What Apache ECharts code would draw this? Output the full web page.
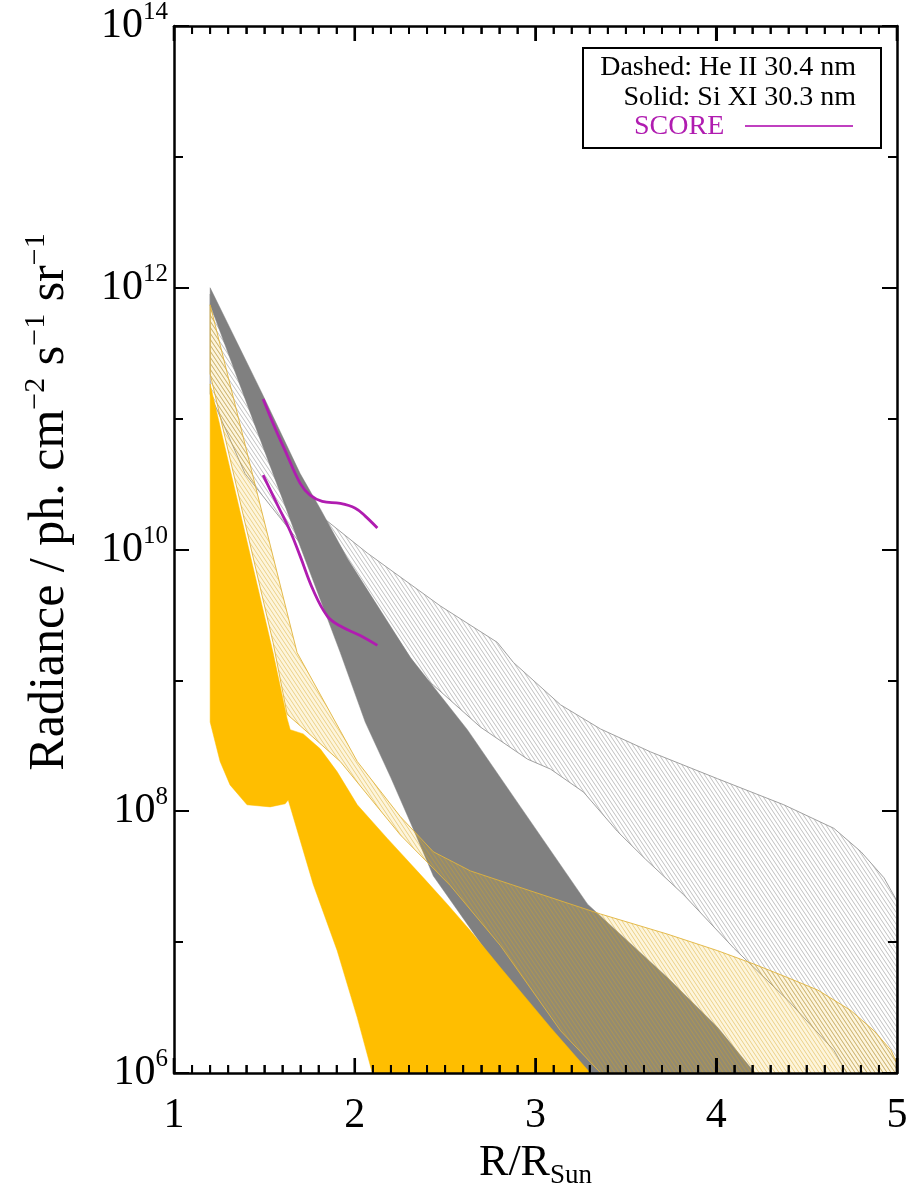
<!DOCTYPE html>
<html>
<head>
<meta charset="utf-8">
<script src="https://cdn.jsdelivr.net/npm/echarts@6/dist/echarts.min.js"></script>
<style>
  html, body { margin: 0; padding: 0; background: #fff; }
  #chart { width: 912px; height: 1196px; }
</style>
</head>
<body>
<div id="chart"></div>
<script>
// Radial radiance envelopes, points are [R/R_Sun, radiance (ph cm^-2 s^-1 sr^-1)]
// Si XI 30.3 nm, grey model: upper and lower envelope
const siGrayTop = [[1.2,1.0e12],[1.488,1.55e11],[1.698,3.8e10],[1.809,2.05e10],[1.958,8.6e9],[2.307,1.5e9],[2.623,4.2e8],[2.917,1.08e8],[3.288,1.95e7],[3.731,5.35e6],[4.008,2.23e6],[4.247,8.8e5]];
const siGrayBot = [[1.2,7.4e11],[1.476,7.0e10],[1.698,1.06e10],[1.920,1.63e9],[2.058,4.8e8],[2.200,1.8e8],[2.340,6.5e7],[2.435,3.2e7],[2.806,6.0e6],[3.166,8.8e5]];
// He II 30.4 nm, grey model
const heGrayTop = [[1.2,8.9e11],[1.476,1.3e11],[1.753,2.1e10],[2.069,9.4e9],[2.474,3.7e9],[2.789,1.95e9],[2.878,1.37e9],[3.139,6.5e8],[3.360,4.25e8],[3.637,2.84e8],[4.008,1.77e8],[4.374,1.12e8],[4.651,7.4e7],[4.801,4.9e7],[4.928,3.1e7],[5.0,2.06e7]];
const heGrayBot = [[1.2,1.54e11],[1.393,3.8e10],[1.698,1.12e10],[2.030,3.6e9],[2.307,1.26e9],[2.435,9.2e8],[2.695,4.4e8],[2.956,2.5e8],[3.083,2.1e8],[3.266,1.4e8],[3.454,7.0e7],[3.609,4.3e7],[3.820,2.3e7],[4.097,9.0e6],[4.396,3.6e6],[4.651,1.49e6],[4.745,8.8e5]];
// Si XI 30.3 nm, orange model
const siOrangeTop = [[1.2,1.84e11],[1.548,1.63e9],[1.626,5.1e8],[1.643,4.2e8],[1.715,3.9e8],[1.809,3.0e8],[1.903,2.0e8],[2.014,1.12e8],[2.180,6.2e7],[2.380,3.1e7],[2.512,1.95e7],[2.640,1.22e7],[2.806,6.4e6],[3.083,2.23e6],[3.338,8.8e5]];
const siOrangeBot = [[1.2,4.8e8],[1.255,2.4e8],[1.310,1.59e8],[1.404,1.12e8],[1.532,1.08e8],[1.615,1.14e8],[1.632,1.22e8],[1.770,2.77e7],[1.903,8.6e6],[2.014,2.65e6],[2.108,8.8e5]];
// He II 30.4 nm, orange model
const heOrangeTop = [[1.2,7.4e11],[1.681,1.63e9],[2.014,2.4e8],[2.252,9.1e7],[2.435,4.9e7],[2.640,3.5e7],[2.861,2.77e7],[3.360,1.64e7],[3.731,1.15e7],[4.008,8.6e6],[4.208,6.8e6],[4.396,5.35e6],[4.562,4.3e6],[4.745,3.0e6],[4.873,2.1e6],[4.967,1.49e6],[5.0,1.18e6]];
const heOrangeBot = [[1.2,2.2e11],[1.548,1.95e9],[1.626,5.5e8],[1.698,4.5e8],[1.920,2.4e8],[2.252,6.6e7],[2.529,2.7e7],[2.806,9.4e6],[3.139,2.1e6],[3.399,8.8e5]];
// SCORE measurements
const scoreUpper = [[1.493,1.41e11],[1.560,8.4e10],[1.615,5.7e10],[1.698,3.2e10],[1.753,2.6e10],[1.820,2.33e10],[1.920,2.25e10],[2.003,2.07e10],[2.058,1.8e10],[2.125,1.46e10]];
const scoreLower = [[1.493,3.7e10],[1.576,2.14e10],[1.643,1.38e10],[1.698,8.9e9],[1.770,4.9e9],[1.848,3.1e9],[1.920,2.6e9],[2.030,2.2e9],[2.125,1.85e9]];

const xMajorTicks = [1, 2, 3, 4, 5];
const xMinorPerMajor = 10;
const legendLines = ['Dashed: He II 30.4 nm', 'Solid: Si XI 30.3 nm', 'SCORE'];
const SERIF = '"Liberation Serif", "Times New Roman", serif';
const Y_MIN = 1e6, Y_MAX = 1e14;

// tick positions along R/R_Sun (major ticks plus the tenths between them)
const xTickMarks = [];
for (let i = 0; i < xMajorTicks.length; i++) {
  xTickMarks.push([xMajorTicks[i], Y_MIN, 1]);
  if (i < xMajorTicks.length - 1) {
    const step = (xMajorTicks[i + 1] - xMajorTicks[i]) / xMinorPerMajor;
    for (let k = 1; k < xMinorPerMajor; k++) xTickMarks.push([+(xMajorTicks[i] + k * step).toFixed(4), Y_MIN, 0]);
  }
}

// diagonal hatch tile
function hatch(w, h, line, lw, bg) {
  const c = document.createElement('canvas');
  c.width = w; c.height = h;
  const g = c.getContext('2d');
  if (bg) { g.fillStyle = bg; g.fillRect(0, 0, w, h); }
  g.strokeStyle = line; g.lineWidth = lw;
  for (let k = -1; k <= 1; k++) {
    g.beginPath(); g.moveTo(k * w, 0); g.lineTo(k * w + w, h); g.stroke();
  }
  return c;
}
const grayHatch = hatch(4, 6, 'rgba(140,140,140,0.6)', 0.9, null);
const yellowHatch = hatch(4, 6, 'rgba(215,165,30,0.5)', 0.9, 'rgba(245,195,50,0.17)');

// closed band between an upper and a lower envelope, clipped to the plot
function band(name, top, bot, style, z) {
  return {
    type: 'custom', name: name, coordinateSystem: 'cartesian2d',
    xAxisIndex: 0, yAxisIndex: 0, clip: true, silent: true, z: z,
    data: [top[0]],
    renderItem: function (params, api) {
      const floor = 1e5;
      const ring = top.concat(
        [[top[top.length - 1][0], floor], [bot[bot.length - 1][0], floor]],
        bot.slice().reverse());
      const cs = params.coordSys;
      return {
        type: 'polygon',
        shape: { points: ring.map(p => api.coord(p)) },
        style: style,
        clipPath: { type: 'rect', shape: { x: cs.x, y: cs.y, width: cs.width, height: cs.height } }
      };
    }
  };
}

// inward tick marks on the bottom and top frame edges, one data item per tick
function frameTicks() {
  return {
    type: 'custom', name: 'frame ticks', coordinateSystem: 'cartesian2d',
    xAxisIndex: 0, yAxisIndex: 0, clip: false, silent: true, z: 30,
    dimensions: ['x', 'y', 'major'],
    encode: { x: 0, y: 1 },
    data: xTickMarks,
    renderItem: function (params, api) {
      const v = api.value(0);
      const major = api.value(2) === 1;
      const len = major ? 15 : 8;
      const w = major ? 2.6 : 2;
      const b = api.coord([v, Y_MIN]);
      const tp = api.coord([v, Y_MAX]);
      return {
        type: 'group', children: [
          { type: 'rect', shape: { x: b[0] - w / 2, y: b[1] - len, width: w, height: len }, style: { fill: '#000' } },
          { type: 'rect', shape: { x: tp[0] - w / 2, y: tp[1], width: w, height: len }, style: { fill: '#000' } }
        ]
      };
    }
  };
}

function frameLine() { return { show: true, lineStyle: { color: '#000', width: 2.5 } }; }

function yAxisDef(pos, interval, tickLen, labels) {
  return {
    type: 'log', logBase: 10, min: Y_MIN, max: Y_MAX, interval: interval,
    position: pos, offset: 0, gridIndex: 0, show: true, z: 20,
    axisLine: (labels || (pos === 'right' && interval === 2)) ? frameLine() : { show: false },
    axisTick: { show: true, inside: true, length: tickLen, lineStyle: { color: '#000', width: 2 } },
    splitLine: { show: false },
    axisLabel: labels ? {
      show: true, margin: 6, color: '#000',
      formatter: v => '{b|10}{s|' + Math.round(Math.log10(v)) + '}',
      rich: {
        b: { fontFamily: SERIF, fontSize: 42, lineHeight: 52, color: '#000' },
        s: { fontFamily: SERIF, fontSize: 25, lineHeight: 25, verticalAlign: 'top', color: '#000' }
      }
    } : { show: false }
  };
}

function xAxisDef(pos, labels) {
  return {
    type: 'value', min: 1, max: 5, interval: 1, position: pos, gridIndex: 0, show: true, z: 20,
    axisLine: frameLine(),
    axisTick: { show: true, inside: true, interval: 0, length: 15, lineStyle: { color: '#000', width: 2 } },
    minorTick: { show: true, splitNumber: 10, length: 8, lineStyle: { color: '#000', width: 1.6 } },
    splitLine: { show: false },
    axisLabel: labels ? { show: true, margin: 22, color: '#000', fontFamily: SERIF, fontSize: 42 } : { show: false },
    name: labels ? '{b|R/R}{sub|Sun}' : '',
    nameLocation: 'middle', nameGap: 62,
    nameTextStyle: {
      rich: {
        b: { fontFamily: SERIF, fontSize: 44, lineHeight: 52, color: '#000' },
        sub: { fontFamily: SERIF, fontSize: 27, lineHeight: 27, verticalAlign: 'bottom', color: '#000' }
      }
    }
  };
}

const chart = echarts.init(document.getElementById('chart'), null, { renderer: 'canvas' });
chart.setOption({
  animation: false,
  backgroundColor: '#fff',
  grid: { left: 174, right: 15, top: 20, bottom: 123, containLabel: false },
  xAxis: [xAxisDef('bottom', true), xAxisDef('top', false)],
  yAxis: [
    yAxisDef('left', 2, 15, true),
    yAxisDef('left', 1, 9, false),
    yAxisDef('right', 2, 15, false),
    yAxisDef('right', 1, 9, false)
  ],
  series: [
    band('He II grey', heGrayTop, heGrayBot,
      { fill: { image: grayHatch, repeat: 'repeat' }, stroke: '#a0a0a0', lineWidth: 1 }, 1),
    band('Si XI grey', siGrayTop, siGrayBot,
      { fill: '#808080', stroke: '#808080', lineWidth: 0.5 }, 2),
    band('He II orange', heOrangeTop, heOrangeBot,
      { fill: { image: yellowHatch, repeat: 'repeat' }, stroke: 'rgba(225,180,60,0.9)', lineWidth: 1 }, 3),
    band('Si XI orange', siOrangeTop, siOrangeBot,
      { fill: '#ffbe00', stroke: '#ffbe00', lineWidth: 0.5 }, 4),
    {
      type: 'line', name: 'SCORE', data: scoreUpper, smooth: 0.4, showSymbol: false, z: 5,
      lineStyle: { color: '#b01cb0', width: 2.8 }, silent: true
    },
    {
      type: 'line', name: 'SCORE lower', data: scoreLower, smooth: 0.4, showSymbol: false, z: 5,
      lineStyle: { color: '#b01cb0', width: 2.8 }, silent: true
    },
    frameTicks()
  ],
  graphic: [
    {
      type: 'text', x: 50, y: 502, rotation: Math.PI / 2, z: 50,
      style: {
        text: '{b|Radiance / ph. cm}{s|−2}{b| s}{s|−1}{b| sr}{s|−1}',
        align: 'center', verticalAlign: 'middle',
        rich: {
          b: { fontFamily: SERIF, fontSize: 50, lineHeight: 58, fill: '#000' },
          s: { fontFamily: SERIF, fontSize: 30, lineHeight: 30, verticalAlign: 'top', fill: '#000' }
        }
      }
    },
    {
      type: 'group', z: 100,
      children: [
        { type: 'rect', shape: { x: 583, y: 48, width: 298, height: 100 }, style: { fill: '#fff', stroke: '#000', lineWidth: 2 } },
        { type: 'text', x: 856, y: 68, style: { text: legendLines[0], align: 'right', verticalAlign: 'middle', font: '28px ' + SERIF, fill: '#000' } },
        { type: 'text', x: 856, y: 98, style: { text: legendLines[1], align: 'right', verticalAlign: 'middle', font: '28px ' + SERIF, fill: '#000' } },
        { type: 'text', x: 634, y: 127, style: { text: legendLines[2], align: 'left', verticalAlign: 'middle', font: '28px ' + SERIF, fill: '#b01cb0' } },
        { type: 'line', shape: { x1: 745, y1: 126, x2: 853, y2: 126 }, style: { stroke: '#c040c0', lineWidth: 2 } }
      ]
    }
  ]
});
</script>
</body>
</html>
